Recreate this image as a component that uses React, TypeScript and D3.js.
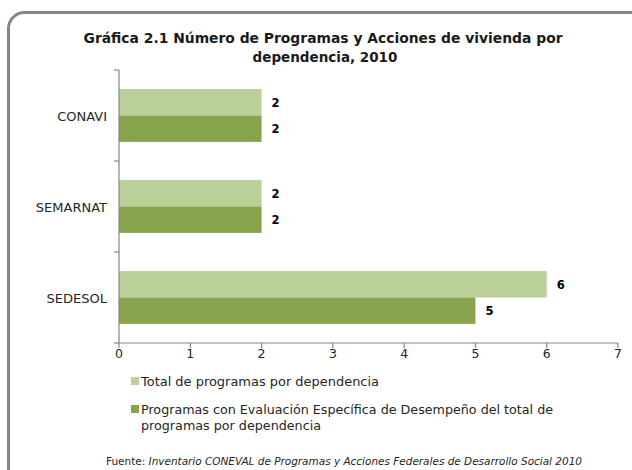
import React from "react";
import * as d3 from "d3";

const categories = ["CONAVI", "SEMARNAT", "SEDESOL"];
const seriesNames = [
  "Total de programas por dependencia",
  "Programas con Evaluación Específica de Desempeño del total de programas por dependencia",
];
const totalPrograms = [2, 2, 6];
const evaluatedPrograms = [2, 2, 5];
const xTicks = [0, 1, 2, 3, 4, 5, 6, 7];
const titleLines = [
  "Gráfica 2.1 Número de Programas y Acciones de vivienda por",
  "dependencia, 2010",
];
const legendLines2 = [
  "Programas con Evaluación Específica de Desempeño del total de",
  "programas por dependencia",
];

const W = 632;
const H = 470;
const LIGHT = "#BBCF99";
const DARK = "#88A44C";
const AXIS = "#868686";
const FONT = "'DejaVu Sans', 'Open Sans', sans-serif";
const TEXT = "#262626";

export default function App() {
  const x = d3.scaleLinear().domain([0, 7]).range([119, 618]);
  const y = d3
    .scaleBand<string>()
    .domain(categories)
    .range([70, 343])
    .paddingInner(0.42)
    .paddingOuter(0.21);
  const sub = d3
    .scaleBand<number>()
    .domain([0, 1])
    .range([0, y.bandwidth()]);
  const series = [totalPrograms, evaluatedPrograms];
  const colors = [LIGHT, DARK];
  const step = y.step();
  const boundaries = [0, 1, 2, 3].map((i) => 70 + i * step);

  return (
    <svg
      width={W}
      height={H}
      style={{ position: "absolute", left: 0, top: 0, background: "#fff" }}
      fontFamily={FONT}
    >
      <rect x={8.5} y={12.5} width={650} height={480} rx={16} fill="#fff" stroke={AXIS} strokeWidth={3} />
      <text x={323} y={43} textAnchor="middle" fontSize={13.5} fontWeight="bold" fill="#1a1a1a" textLength={479} lengthAdjust="spacingAndGlyphs">
        {titleLines[0]}
      </text>
      <text x={325} y={62} textAnchor="middle" fontSize={13.5} fontWeight="bold" fill="#1a1a1a">
        {titleLines[1]}
      </text>
      {/* bars */}
      {categories.map((c, ci) =>
        series.map((s, si) => (
          <g key={c + si}>
            <rect
              x={x(0)}
              y={(y(c) as number) + (sub(si) as number)}
              width={x(s[ci]) - x(0)}
              height={sub.bandwidth()}
              fill={colors[si]}
            />
            <text
              x={x(s[ci]) + 10}
              y={(y(c) as number) + (sub(si) as number) + sub.bandwidth() / 2 + 4.5}
              fontSize={11.5}
              fontWeight="bold"
              fill="#000"
            >
              {s[ci]}
            </text>
          </g>
        ))
      )}
      {/* y axis */}
      <line x1={x(0)} x2={x(0)} y1={70} y2={343} stroke={AXIS} strokeWidth={1.2} />
      {boundaries.map((b, i) => (
        <line key={i} x1={x(0) - 5} x2={x(0)} y1={b} y2={b} stroke={AXIS} strokeWidth={1.2} />
      ))}
      {categories.map((c) => (
        <text
          key={c}
          x={107}
          y={(y(c) as number) + y.bandwidth() / 2 + 5}
          textAnchor="end"
          fontSize={13}
          fill={TEXT}
        >
          {c}
        </text>
      ))}
      {/* x axis */}
      <line x1={x(0)} x2={x(7)} y1={343} y2={343} stroke={AXIS} strokeWidth={1.2} />
      {xTicks.map((t) => (
        <g key={t}>
          <line x1={x(t)} x2={x(t)} y1={343} y2={348} stroke={AXIS} strokeWidth={1.2} />
          <text x={x(t)} y={358} textAnchor="middle" fontSize={12.5} fill={TEXT}>
            {t}
          </text>
        </g>
      ))}
      {/* legend */}
      <rect x={131} y={377} width={8} height={8} fill={LIGHT} />
      <text x={141} y={385.5} fontSize={12} fill={TEXT} textLength={238} lengthAdjust="spacingAndGlyphs">
        {seriesNames[0]}
      </text>
      <rect x={131} y={405} width={8} height={8} fill={DARK} />
      <text x={141} y={413.5} fontSize={12} fill={TEXT} textLength={412} lengthAdjust="spacingAndGlyphs">
        {legendLines2[0]}
      </text>
      <text x={141} y={430} fontSize={12} fill={TEXT} textLength={180} lengthAdjust="spacingAndGlyphs">
        {legendLines2[1]}
      </text>
      {/* source */}
      <text x={106} y={465} fontSize={10} fill={TEXT} textLength={476} lengthAdjust="spacingAndGlyphs">
        Fuente:
        <tspan fontStyle="italic"> Inventario CONEVAL de Programas y Acciones Federales de Desarrollo Social 2010</tspan>
      </text>
    </svg>
  );
}
